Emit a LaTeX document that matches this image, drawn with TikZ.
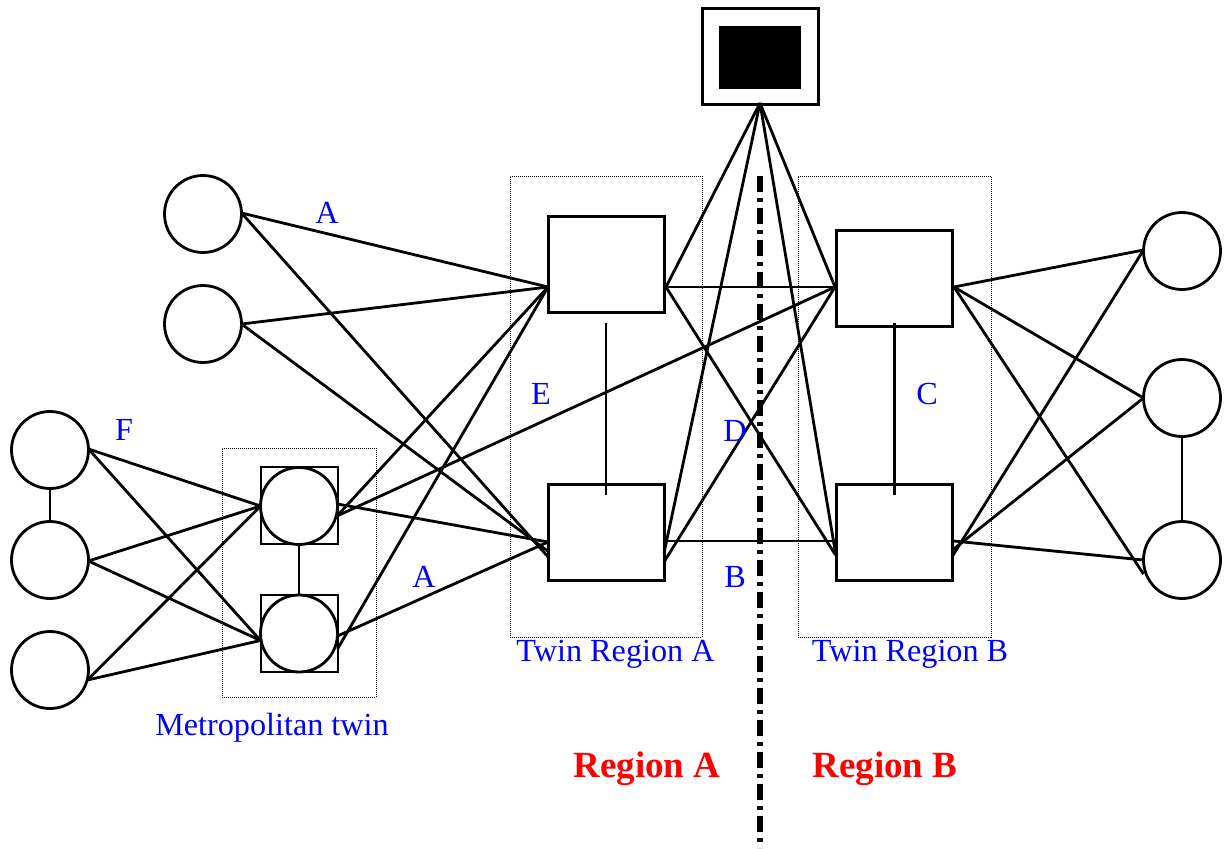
\documentclass[tikz,border=0pt]{standalone}
\usepackage{fontspec}
\setmainfont{Liberation Serif}
\usetikzlibrary{calc}
\tikzset{
  x=1pt,y=-1pt,
  wire/.style={draw=black,line width=2.8pt,line cap=butt},
  circ/.style={circle,draw=black,line width=2.8pt,fill=white,minimum size=77pt,inner sep=0pt,outer sep=0pt},
  boxn/.style={rectangle,draw=black,line width=3pt,fill=white,minimum width=116pt,minimum height=96pt,inner sep=0pt,outer sep=0pt},
  sq/.style={rectangle,draw=black,line width=2.8pt,fill=white,minimum size=77pt,inner sep=0pt,outer sep=0pt},
  zone/.style={rectangle,draw=black,line width=1pt,dash pattern=on 1pt off 1pt,inner sep=0pt,outer sep=0pt},
  lbl/.style={text=blue,font=\fontsize{32.2}{35}\selectfont,inner sep=0pt},
  reg/.style={text=red,font=\bfseries\fontsize{37}{41}\selectfont,inner sep=0pt}
}
\begin{document}
\begin{tikzpicture}
\useasboundingbox (0,0) rectangle (1225,848);
% dotted zones
\node[zone,minimum width=192pt,minimum height=461pt] (zoneA) at (606,406.5) {};
\node[zone,minimum width=193pt,minimum height=461pt] (zoneB) at (894.5,406.5) {};
\node[zone,minimum width=154pt,minimum height=249pt] (zoneM) at (299,572.5) {};
% top
\node[boxn] (top) at (760,57) {};
\node[rectangle,fill=black,minimum width=82pt,minimum height=63pt,inner sep=0pt,outer sep=0pt] (core) at (760,57.5) {};
% boxes
\node[boxn] (ta) at (606,264) {};
\node[boxn] (tb) at (894.5,278) {};
\node[boxn] (ba) at (606,532) {};
\node[boxn] (bb) at (894.5,532) {};
% circles
\node[circ] (l1) at (203,214) {};
\node[circ] (l2) at (203,324) {};
\node[circ] (f1) at (50,450) {};
\node[circ] (f2) at (50,560) {};
\node[circ] (f3) at (50,670) {};
\node[sq] (ms1) at (299.5,505.5) {};
\node[sq] (ms2) at (299.5,633.5) {};
\node[circ] (m1) at (299,506) {};
\node[circ] (m2) at (299,633.5) {};
\node[circ] (r1) at (1182,251) {};
\node[circ] (r2) at (1182,398) {};
\node[circ] (r3) at (1182,560) {};
% ports
\coordinate (apex) at ($(top.south)+(0,-2)$);
\coordinate (taL) at ($(ta.west)+(0,23)$);
\coordinate (taR) at ($(ta.east)+(2,23)$);
\coordinate (tbL) at ($(tb.west)+(-1.5,9)$);
\coordinate (tbR) at ($(tb.east)+(1.5,9)$);
\coordinate (baL1) at ($(ba.west)+(0,10)$);
\coordinate (baR1) at ($(ba.east)+(1,9)$);
\coordinate (baR2) at ($(ba.east)+(0,21)$);
\coordinate (baR3) at ($(ba.east)+(0,30)$);
\coordinate (bbL1) at ($(bb.west)+(-1,9)$);
\coordinate (bbL2) at ($(bb.west)+(-1,21)$);
\coordinate (bbL3) at ($(bb.west)+(-1,23)$);
\coordinate (bbR1) at ($(bb.east)+(1,9)$);
\coordinate (bbR2) at ($(bb.east)+(0,18)$);
\coordinate (bbR3) at ($(bb.east)+(0,24)$);
\coordinate (m1R1) at ($(m1.east)+(0,-2)$);
\coordinate (m1R2) at ($(m1.east)+(-0.5,10)$);
\coordinate (m2R1) at ($(m2.east)+(0,2.5)$);
\coordinate (m2R2) at ($(m2.east)+(0,15.5)$);
\coordinate (m1L) at ($(m1.west)+(0,0)$);
\coordinate (m2L) at ($(m2.west)+(0,7)$);
% apex fan
\draw[wire] (apex) -- (taR);
\draw[wire] (apex) -- (baR2);
\draw[wire] (apex) -- (bbL2);
\draw[wire] (apex) -- (tbL);
% core links
\draw[wire] (taR) -- (tbL);
\draw[wire] (taR) -- (bbL3);
\draw[wire] (tbL) -- (baR3);
\draw[wire] (baR1) -- (bbL1);
\draw[wire] (tbL) -- (m1R2);
% twin verticals
\draw[wire] ($(ta.south)+(0,11)$) -- ($(ba.north)+(0,11)$);
\draw[wire] ($(tb.south)+(0,-3)$) -- ($(bb.north)+(0,11)$);
% left clients
\draw[wire] ($(l1.east)+(0,-1)$) -- (taL);
\draw[wire] ($(l1.east)+(0,-1)$) -- ($(ba.west)+(1,26)$);
\draw[wire] ($(l2.east)+(0,0)$) -- (taL);
\draw[wire] ($(l2.east)+(0,0)$) -- ($(ba.west)+(1,20)$);
% metro links
\draw[wire] (m1R2) -- (taL);
\draw[wire] (m1R1) -- (baL1);
\draw[wire] (m2R1) -- (baL1);
\draw[wire] (m2R2) -- (taL);
\draw[wire] (m1.south) -- (m2.north);
% far left
\draw[wire] (f1.south) -- (f2.north);
\draw[wire] ($(f1.east)+(0,-1)$) -- (m1L);
\draw[wire] ($(f1.east)+(0,-1)$) -- (m2L);
\draw[wire] ($(f2.east)+(0,1)$) -- (m1L);
\draw[wire] ($(f2.east)+(0,1)$) -- (m2L);
\draw[wire] ($(f3.east)+(-1,10)$) -- (m1L);
\draw[wire] ($(f3.east)+(-1,10)$) -- (m2L);
% right side
\draw[wire] (tbR) -- ($(r1.west)+(0,-1)$);
\draw[wire] (tbR) -- (r2.west);
\draw[wire] (tbR) -- ($(r3.west)+(0,14)$);
\draw[wire] (bbR3) -- ($(r1.west)+(0,-1)$);
\draw[wire] (bbR2) -- (r2.west);
\draw[wire] (bbR1) -- (r3.west);
\draw[wire] (r2.south) -- (r3.north);
% region divider
\coordinate (divT) at (760,176);
\coordinate (divB) at (760,848);
\draw[black,line width=5.5pt,dash pattern=on 16pt off 6pt on 4pt off 6pt] (divT) -- (divB);
% labels
\node[lbl] (la1) at (327,213) {A};
\node[lbl] (la2) at (424,577) {A};
\node[lbl] (le) at (541,394) {E};
\node[lbl] (lf) at (124,430) {F};
\node[lbl] (ld) at (735,431) {D};
\node[lbl] (lb) at (735,577) {B};
\node[lbl] (lc) at (927,394) {C};
\node[lbl] (ltA) at (615.5,654.5) {Twin Region A};
\node[lbl] (ltB) at (910,654.5) {Twin Region B};
\node[lbl] (lm) at (272,728) {Metropolitan twin};
\node[reg] (ra) at (647,769) {Region A};
\node[reg] (rb) at (885,769) {Region B};
\end{tikzpicture}
\end{document}
